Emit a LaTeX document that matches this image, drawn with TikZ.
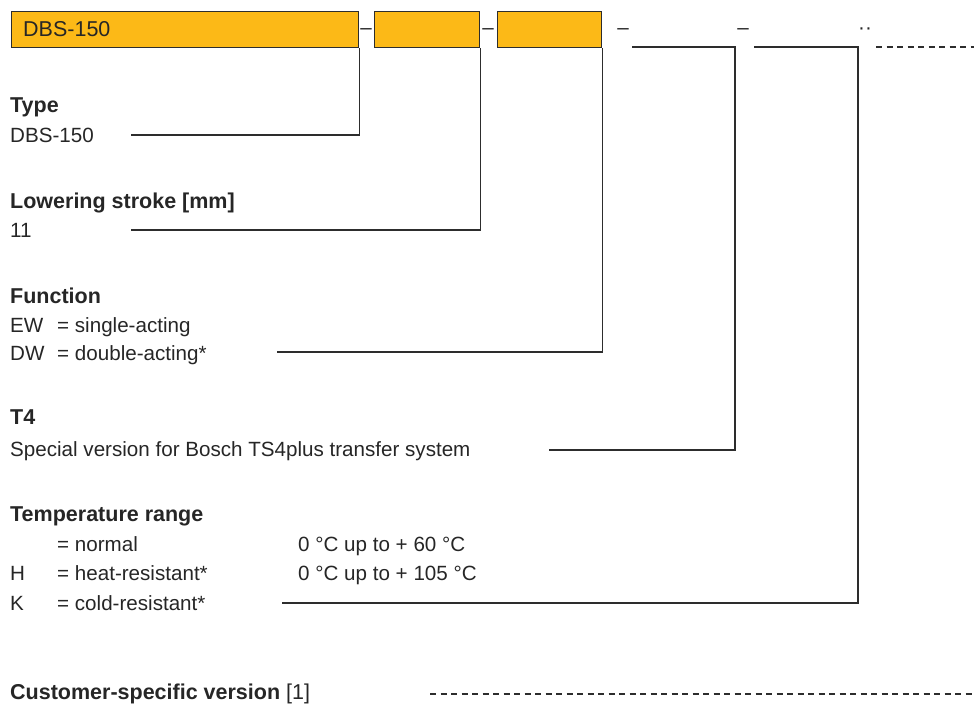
\documentclass[tikz,border=0pt]{standalone}
\usepackage{fontspec}
\setmainfont{Liberation Sans}
\usetikzlibrary{positioning}
\definecolor{codeyellow}{RGB}{252,185,23}
\definecolor{linegray}{RGB}{45,45,45}

\begin{document}
\begin{tikzpicture}[x=1pt,y=-1pt,
    font=\fontsize{20.6}{24}\selectfont,
    codebox/.style={draw=linegray, fill=codeyellow, line width=1.2pt,
        minimum height=36pt, inner sep=0pt, anchor=north west},
    lead/.style={draw=linegray, line width=1.1pt},
    dashlead/.style={lead, dash pattern=on 6pt off 4.5pt},
    txt/.style={anchor=base west, inner sep=0pt, text=black!85},
    head/.style={txt, font=\fontsize{21.5}{24}\selectfont\bfseries},
    sep/.style={anchor=base, inner sep=0pt, text=black!85}]
    \useasboundingbox (0,0) rectangle (974,709);

    % Codice d'ordine
    \node[codebox, minimum width=347pt] (typebox) at (11,11) {};
    \node[txt, font=\fontsize{21.5}{24}\selectfont] (typecode) at (23,37) {DBS-150};
    \node[codebox, minimum width=105pt] (strokebox) at (374,11) {};
    \node[codebox, minimum width=104pt] (funcbox) at (497,11) {};

    % Separatori
    \node[sep] (sepa) at (366,35) {–};
    \node[sep] (sepb) at (488,35) {–};
    \node[sep] (sepc) at (623,35) {–};
    \node[sep] (sepd) at (743,35) {–};
    \node[sep] (sepe) at (865,35) {··};

    % Tipo
    \node[head] (typehead) at (10,112) {Type};
    \node[txt] (typeval) at (10,142) {DBS-150};
    \coordinate (typeend) at (131,135);
    \draw[lead] (typeend) -| (typebox.south east);

    % Corsa
    \node[head] (strokehead) at (10,208) {Lowering stroke [mm]};
    \node[txt] (strokeval) at (10,237) {11};
    \coordinate (strokeend) at (131,230);
    \draw[lead] (strokeend) -| (strokebox.south east);

    % Funzione
    \node[head] (funchead) at (10,303) {Function};
    \node[txt] (ewkey) at (10,332) {EW};
    \node[txt] (ewval) at (57,332) {= single-acting};
    \node[txt] (dwkey) at (10,360) {DW};
    \node[txt] (dwval) at (57,360) {= double-acting*};
    \coordinate (funcend) at (277,352);
    \draw[lead] (funcend) -| (funcbox.south east);

    % T4
    \node[head] (tfourhead) at (10,424) {T4};
    \node[txt] (tfourval) at (10,456) {Special version for Bosch TS4plus transfer system};
    \coordinate (tfourtop) at (632,47);
    \coordinate (tfourcorner) at (735,47);
    \coordinate (tfourend) at (549,450);
    \draw[lead] (tfourtop) -- (tfourcorner) |- (tfourend);

    % Campo di temperatura
    \node[head] (temphead) at (10,521) {Temperature range};
    \node[txt] (normval) at (57,551) {= normal};
    \node[txt] (normrange) at (298,551) {0 °C up to + 60 °C};
    \node[txt] (hkey) at (10,580) {H};
    \node[txt] (hval) at (57,580) {= heat-resistant*};
    \node[txt] (hrange) at (298,580) {0 °C up to + 105 °C};
    \node[txt] (kkey) at (10,610) {K};
    \node[txt] (kval) at (57,610) {= cold-resistant*};
    \coordinate (temptop) at (754,47);
    \coordinate (tempcorner) at (858,47);
    \coordinate (tempend) at (282,603);
    \draw[lead] (temptop) -- (tempcorner) |- (tempend);

    % Versione cliente
    \node[head] (custhead) at (10,699) {Customer-specific version \mdseries[1]};
    \coordinate (custtop) at (876,47);
    \coordinate (custtopend) at (974,47);
    \coordinate (custend) at (430,694);
    \coordinate (custendr) at (974,694);
    \draw[dashlead] (custtop) -- (custtopend);
    \draw[dashlead] (custend) -- (custendr);
\end{tikzpicture}
\end{document}
